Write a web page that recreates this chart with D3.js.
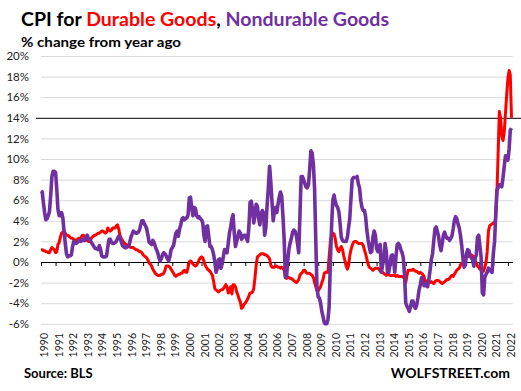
<!DOCTYPE html>
<html><head><meta charset="utf-8">
<script src="https://cdn.jsdelivr.net/npm/d3@7"></script>
<style>
body{margin:0;background:#fff}
svg{display:block;font-family:Lato,"Open Sans",sans-serif}
</style>
</head><body>
<svg id="chart" width="521" height="391"></svg>
<script>
// ---- data (monthly, Jan 1990 .. Apr 2022), % change from year ago ----
const startYear = 1990;
const durable = [
 1.2, 1.2, 1.1, 1.1, 1.0, 1.0, 0.9, 0.9, 1.2, 1.4, 1.3, 1.2,
 0.9, 1.0, 1.7, 1.9, 2.4, 2.8, 2.9, 3.0, 2.8, 2.6, 2.6, 2.5,
 2.4, 2.3, 2.3, 2.2, 2.1, 2.1, 2.2, 2.3, 2.3, 2.4, 2.6, 2.6,
 2.4, 2.2, 2.1, 2.0, 2.0, 2.2, 2.4, 2.5, 2.6, 2.6, 2.7, 2.8,
 2.8, 2.9, 3.0, 3.0, 2.9, 2.8, 2.9, 3.3, 3.1, 3.0, 3.1, 3.3,
 3.3, 3.3, 3.5, 3.6, 3.2, 2.6, 2.3, 2.1, 1.9, 1.8, 1.7, 1.6,
 1.6, 1.5, 1.4, 1.4, 1.4, 1.3, 1.2, 1.2, 1.1, 1.0, 1.0, 0.9,
 0.7, 0.6, 0.5, 0.4, 0.2, -0.1, -0.2, -0.4, -0.7, -0.9, -1.1, -1.2,
 -1.3, -1.3, -1.3, -1.2, -1.2, -1.1, -0.8, -0.4, -0.4, -0.4, -0.5, -0.7,
 -0.9, -1.1, -1.3, -1.4, -1.3, -1.2, -1.2, -1.1, -1.1, -0.9, -0.8, -1.0,
 -1.0, -0.5, 0.0, 0.1, 0.0, -0.2, -0.3, -0.4, -0.3, -0.1, 0.2, 0.4,
 0.5, 0.4, 0.1, -0.3, -0.5, -0.7, -0.8, -0.9, -1.1, -1.3, -1.9, -2.6,
 -2.7, -2.8, -2.9, -2.8, -2.7, -2.7, -2.6, -2.4, -2.2, -2.4, -3.0, -2.9,
 -2.4, -3.1, -2.2, -2.2, -2.4, -2.9, -3.2, -3.6, -3.9, -4.5, -4.4, -4.1,
 -4.0, -3.8, -3.6, -3.3, -3.0, -3.0, -2.9, -2.6, -1.5, -0.3, 0.5, 0.6,
 0.7, 0.8, 0.8, 0.8, 0.7, 0.7, 0.6, 0.5, 0.3, -0.3, -0.5, -0.5,
 -0.5, -0.4, -0.4, -0.5, -0.5, -0.6, -0.5, -0.6, -0.8, -1.4, -1.6, -1.5,
 -1.5, -1.6, -1.6, -1.7, -1.8, -1.9, -2.0, -1.9, -1.7, -1.3, -1.1, -1.0,
 -0.8, -0.8, -1.0, -1.1, -1.1, -1.1, -1.2, -1.3, -1.5, -2.0, -2.4, -2.8,
 -2.8, -2.6, -2.4, -2.0, -1.7, -1.1, -1.0, -1.0, -1.0, 0.5, 2.0, 2.7,
 2.8, 2.7, 2.3, 1.5, 1.2, 1.0, 1.3, 1.5, 1.2, 0.6, 0.1, -0.4,
 -0.7, -0.3, 0.6, 1.2, 1.6, 1.9, 2.0, 2.0, 1.9, 1.8, 1.8, 1.8,
 1.8, 1.6, 1.2, 0.8, 0.3, -0.2, -0.5, -0.6, -0.7, -0.8, -0.7, -0.6,
 -0.6, -0.6, -0.7, -0.9, -0.9, -1.0, -1.1, -1.2, -1.3, -1.2, -1.2, -1.3,
 -1.3, -1.3, -1.3, -1.3, -1.4, -1.3, -1.4, -1.4, -1.4, -1.4, -1.5, -1.6,
 -2.0, -1.3, -0.8, -0.8, -0.8, -0.8, -0.7, -0.8, -0.9, -0.9, -1.0, -1.1,
 -1.0, -1.1, -1.2, -1.4, -1.9, -2.0, -1.8, -2.0, -2.0, -1.9, -2.0, -2.1,
 -1.9, -1.8, -1.8, -1.8, -1.9, -2.0, -2.1, -2.0, -1.9, -1.8, -1.7, -1.7,
 -1.6, -1.4, -1.3, -1.4, -1.2, -1.0, -0.8, -0.7, -0.6, -0.3, -0.1, -0.1,
 0.1, 0.3, 0.5, 0.5, 0.6, 0.7, 0.7, 0.6, 0.5, 0.2, -0.1, -0.4,
 -0.5, -0.7, -0.8, -0.9, -0.9, -0.5, -0.1, 1.0, 3.0, 3.5, 3.6, 3.7,
 3.8, 3.7, 4.3, 6.7, 10.5, 14.6, 14.0, 12.2, 11.8, 12.6, 14.4, 16.2,
 17.8, 18.6, 18.2, 14.0
];
const nondurable = [
 6.9, 6.8, 5.8, 4.8, 4.1, 4.2, 4.5, 4.9, 6.5, 8.3, 8.8, 8.8,
 8.7, 7.0, 5.1, 4.5, 4.5, 4.8, 4.3, 3.0, 1.8, 0.8, 0.5, 0.6,
 0.6, 0.7, 1.5, 2.0, 1.9, 1.8, 1.9, 2.0, 2.1, 2.0, 2.2, 2.1,
 2.1, 2.5, 2.6, 2.3, 2.2, 2.0, 1.8, 1.6, 1.4, 1.3, 1.3, 1.2,
 1.6, 1.2, 0.6, 0.5, 0.5, 0.5, 0.6, 1.5, 2.2, 2.2, 1.9, 1.8,
 1.8, 1.9, 2.0, 2.3, 2.5, 2.4, 2.0, 1.6, 1.5, 1.4, 1.4, 1.5,
 1.5, 1.9, 2.4, 2.7, 3.0, 2.9, 2.8, 2.8, 2.9, 3.1, 3.6, 4.0,
 4.0, 3.7, 3.5, 3.2, 2.6, 1.9, 1.8, 1.7, 2.1, 1.9, 1.5, 1.2,
 0.9, 0.4, 0.1, 0.3, 0.7, 0.9, 0.8, 0.6, 0.3, 0.1, 0.5, 1.2,
 1.4, 1.6, 2.2, 2.8, 3.0, 2.5, 3.2, 3.6, 4.2, 4.3, 4.1, 4.2,
 4.3, 4.6, 6.2, 6.3, 5.3, 4.5, 5.3, 5.2, 4.5, 4.3, 4.4, 4.2,
 4.1, 3.8, 2.6, 2.0, 3.4, 3.5, 2.5, 1.5, 1.5, 1.2, 0.7, 0.0,
 -1.0, -0.6, 0.2, 0.3, -0.6, -0.2, 0.5, 1.2, 1.0, 0.9, 1.8, 2.8,
 3.4, 4.2, 4.6, 2.8, 1.5, 2.0, 2.5, 3.0, 2.8, 2.2, 2.4, 2.6,
 2.6, 2.3, 2.0, 3.4, 5.8, 5.9, 5.1, 3.8, 4.6, 5.6, 5.4, 4.2,
 3.6, 4.7, 5.0, 4.8, 2.6, 3.4, 5.5, 7.2, 9.3, 7.8, 5.8, 4.0,
 5.0, 5.3, 4.8, 5.6, 6.3, 6.8, 6.4, 4.5, 2.2, -1.5, -1.4, 0.2,
 1.3, 1.9, 2.3, 2.9, 3.1, 3.0, 2.6, 1.8, 0.9, 4.5, 8.3, 8.3,
 8.0, 7.6, 7.3, 7.2, 7.5, 9.0, 10.8, 10.6, 9.5, 7.2, 2.0, -2.5,
 -3.4, -3.5, -4.0, -4.8, -5.3, -5.9, -6.0, -6.0, -5.6, -4.3, 0.0, 3.5,
 6.0, 6.5, 5.9, 5.5, 5.3, 4.9, 3.8, 2.4, 2.1, 2.0, 2.0, 2.0,
 2.4, 3.4, 4.2, 6.2, 8.0, 8.2, 8.2, 8.2, 8.3, 7.6, 7.2, 6.0,
 5.3, 5.0, 5.0, 4.4, 3.1, 2.2, 1.5, 0.9, 1.0, 2.4, 3.0, 2.6,
 1.3, 1.0, 1.5, 1.7, -1.0, -0.3, 0.4, 1.8, 1.0, -1.0, -1.0, -0.3,
 0.6, 0.7, 0.2, -1.0, 0.5, 1.7, 1.8, 1.6, 1.2, 0.9, 0.4, -1.2,
 -4.0, -4.3, -4.5, -4.8, -4.3, -3.8, -3.8, -4.3, -4.5, -4.2, -3.5, -2.7,
 -2.2, -1.5, -1.8, -2.3, -2.3, -2.2, -2.4, -1.7, -0.8, 0.2, 0.8, 2.0,
 3.2, 3.4, 3.0, 2.5, 1.6, 1.1, 1.8, 2.6, 2.9, 2.5, 2.3, 2.3,
 2.1, 2.3, 2.5, 3.2, 4.0, 4.4, 4.2, 3.7, 3.3, 2.6, 1.6, 0.4,
 -0.5, -0.3, 0.8, 1.2, 1.1, 0.6, 0.4, 0.2, -0.4, 0.3, 0.7, 2.4,
 2.6, 1.5, 0.5, -3.0, -3.2, -1.5, -1.2, -1.0, -0.6, -0.8, -0.9, -1.0,
 0.8, 2.0, 4.5, 7.0, 7.2, 7.5, 7.5, 7.3, 8.2, 9.3, 10.3, 10.0,
 9.9, 11.0, 12.8, 13.0
];
const yTicks = [-6, -4, -2, 0, 2, 4, 6, 8, 10, 12, 14, 16, 18, 20];
const yearLabels = d3.range(1990, 2023);
const highlightLine = 14;

// ---- layout ----
const svg = d3.select("#chart");
const L = 41, R = 512.7, T = 56, B = 323.8;
const monthDate = i => new Date(startYear, i, 1);
const x = d3.scaleTime().domain([new Date(1990, 0, 1), new Date(2022, 4, 1)]).range([L, R]);
const y = d3.scaleLinear().domain([-6, 20]).range([B, T]);

// y axis with gridlines
const gy = svg.append("g").attr("transform", `translate(${L},0)`)
  .call(d3.axisLeft(y).tickValues(yTicks).tickSize(-(R - L)).tickPadding(12)
    .tickFormat(d => d + "%"));
gy.select(".domain").remove();
gy.selectAll(".tick line")
  .attr("stroke", d => d === highlightLine ? "#000" : "#d9d9d9")
  .attr("stroke-width", 1)
  .attr("x1", d => d === highlightLine ? -5 : 0)
  .attr("x2", d => d === highlightLine ? 521 - L : R - L);
gy.selectAll(".tick text")
  .attr("font-size", 11.5).attr("fill", "#222")
  .attr("font-family", "Lato, sans-serif");

// x axis at 0%
const y0 = y(0);
const gx = svg.append("g").attr("transform", `translate(0,${y0})`)
  .call(d3.axisBottom(x).tickValues(yearLabels.map(yr => new Date(yr, 0, 1)))
    .tickSize(4).tickSizeOuter(0).tickFormat(d3.timeFormat("%Y")));
gx.select(".domain").attr("stroke", "#000").attr("stroke-width", 1);
gx.selectAll(".tick line").attr("stroke", "#000").attr("stroke-width", 1);
gx.selectAll(".tick text")
  .attr("x", 0).attr("y", 0).attr("dy", null)
  .attr("transform", `translate(2.5,${333 - y0}) rotate(-90)`)
  .attr("text-anchor", "end").attr("dominant-baseline", "central")
  .attr("font-size", 10.5).attr("fill", "#222")
  .attr("font-family", "Lato, sans-serif");

// lines
const line = d3.line().x((d, i) => x(monthDate(i))).y(d => y(d)).curve(d3.curveLinear);
svg.append("path").datum(durable).attr("d", line)
  .attr("fill", "none").attr("stroke", "#ff0000").attr("stroke-width", 3)
  .attr("stroke-linejoin", "round");
svg.append("path").datum(nondurable).attr("d", line)
  .attr("fill", "none").attr("stroke", "#7030a0").attr("stroke-width", 3.6)
  .attr("stroke-linejoin", "round");

// titles
const title = svg.append("text").attr("x", 21).attr("y", 26)
  .attr("font-size", 18.5).attr("font-weight", "bold")
  .attr("textLength", 368).attr("lengthAdjust", "spacingAndGlyphs");
title.append("tspan").attr("fill", "#000").text("CPI for ");
title.append("tspan").attr("fill", "#ff0000").text("Durable Goods");
title.append("tspan").attr("fill", "#000").text(", ");
title.append("tspan").attr("fill", "#7030a0").text("Nondurable Goods");

svg.append("text").attr("x", 21).attr("y", 46.5)
  .attr("font-size", 14).attr("font-weight", "bold").attr("fill", "#000")
  .attr("textLength", 160).attr("lengthAdjust", "spacingAndGlyphs")
  .text("% change from year ago");

svg.append("text").attr("x", 24).attr("y", 378)
  .attr("font-size", 13).attr("font-weight", "bold").attr("fill", "#000")
  .text("Source: BLS");
svg.append("text").attr("x", 510).attr("y", 378).attr("text-anchor", "end")
  .attr("font-size", 14).attr("font-weight", "bold").attr("fill", "#000")
  .text("WOLFSTREET.com");
</script>
</body></html>
